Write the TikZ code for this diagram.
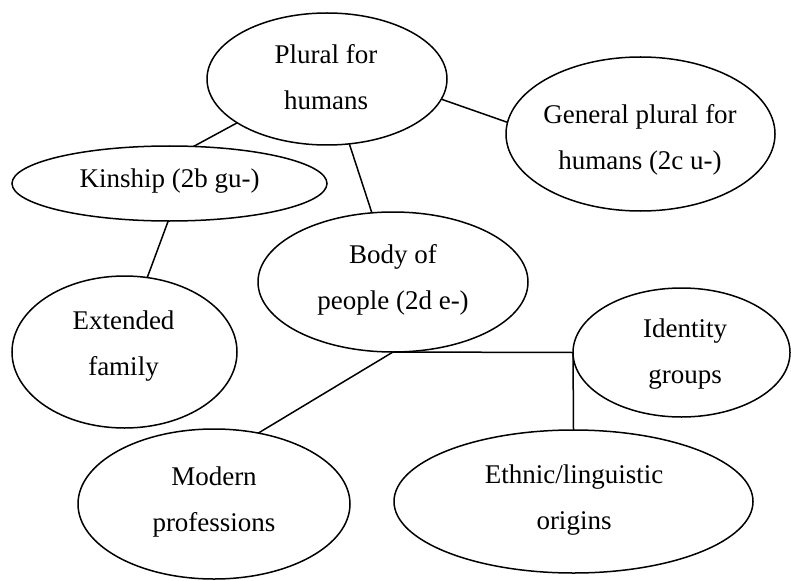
\documentclass[tikz,border=0pt]{standalone}
\usepackage{fontspec}
\setmainfont{Liberation Serif}
\usetikzlibrary{shapes.geometric}
\begin{document}
\begin{tikzpicture}[x=1pt,y=-1pt,
  oval/.style={draw=black, line width=1.5pt, ellipse, inner sep=0pt, outer sep=0pt},
  lbl/.style={align=center, inner sep=0pt, anchor=base, font=\fontsize{27}{46}\selectfont},
  link/.style={draw=black, line width=1.5pt}]
\useasboundingbox (0,0) rectangle (791,580);
% ovals
\node[oval, minimum width=240pt, minimum height=132pt] (plural) at (327,79) {};
\node[oval, minimum width=315pt, minimum height=75pt] (kinship) at (169.5,183.5) {};
\node[oval, minimum width=269pt, minimum height=154pt] (general) at (640.5,134) {};
\node[oval, minimum width=270pt, minimum height=140pt] (body) at (393,282) {};
\node[oval, minimum width=225pt, minimum height=152pt] (extended) at (124.5,352) {};
\node[oval, minimum width=272pt, minimum height=150pt] (modern) at (214,504) {};
\node[oval, minimum width=217pt, minimum height=129pt] (identity) at (681.5,352.5) {};
\node[oval, minimum width=359pt, minimum height=143pt] (ethnic) at (573.5,501.5) {};
% labels (anchored at the baseline of the last line)
\node[lbl] (plural-t) at (326,110) {Plural for\\humans};
\node[lbl] (kinship-t) at (169.5,187) {Kinship (2b gu-)};
\node[lbl] (general-t) at (640,169) {General plural for\\humans (2c u-)};
\node[lbl] (body-t) at (393,309) {Body of\\people (2d e-)};
\node[lbl] (extended-t) at (123.5,375) {Extended\\family};
\node[lbl] (modern-t) at (214,531) {Modern\\professions};
\node[lbl] (identity-t) at (685,383) {Identity\\groups};
\node[lbl] (ethnic-t) at (574,529) {Ethnic/linguistic\\origins};
% connectors
\draw[link] (plural.206) -- (kinship.57);
\draw[link] (plural.289) -- (body.107);
\draw[link] (plural.350.6) -- (general.175.3);
\draw[link] (kinship.268.5) -- (extended.73.3);
\draw[link] (body.south) -- (modern.58);
\draw[link] (body.south) -- (identity.west);
\draw[link] (identity.west) -- (ethnic.north);
\end{tikzpicture}
\end{document}
